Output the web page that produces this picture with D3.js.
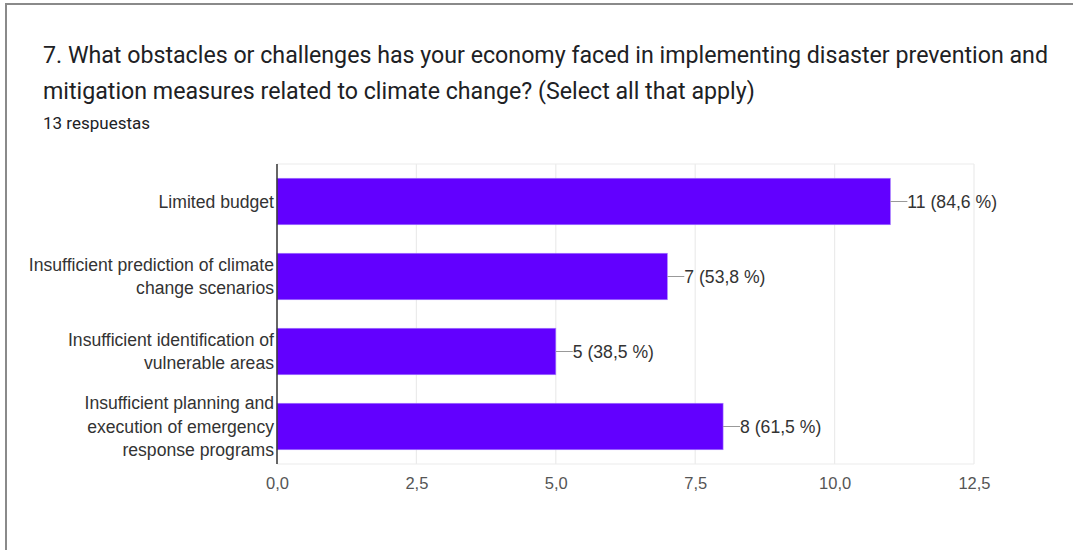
<!DOCTYPE html>
<html><head><meta charset="utf-8">
<script src="https://cdn.jsdelivr.net/npm/d3@7"></script>
<style>
html,body{margin:0;padding:0;background:#fff;}
svg{display:block;}
</style></head>
<body>
<svg id="chart" width="1073" height="550"></svg>
<script>
const categories = [
  ["Limited budget"],
  ["Insufficient prediction of climate", "change scenarios"],
  ["Insufficient identification of", "vulnerable areas"],
  ["Insufficient planning and", "execution of emergency", "response programs"]
];
const counts = [11, 7, 5, 8];
const percentLabels = ["84,6 %", "53,8 %", "38,5 %", "61,5 %"];
const tickValues = [0, 2.5, 5, 7.5, 10, 12.5];
const titleLines = [
  "7. What obstacles or challenges has your economy faced in implementing disaster prevention and",
  "mitigation measures related to climate change? (Select all that apply)"
];
const subtitle = "13 respuestas";

(function(){
const svg = d3.select("#chart");
svg.append("path").attr("d","M6,550 L6,4 L1073,4").attr("fill","none").attr("stroke","#8a8a8a").attr("stroke-width",2);

svg.selectAll("text.title").data(titleLines).join("text").attr("class","title")
  .attr("x",43).attr("y",(d,i)=>63+i*36)
  .attr("font-family","Roboto").attr("font-size",23.2).attr("fill","#202124").text(d=>d);
svg.append("text").attr("x",43).attr("y",128.5).attr("font-family","Roboto").attr("font-size",17).attr("fill","#202124").text(subtitle);

const pLeft=277, pRight=974, pTop=164, pBottom=464;
const x = d3.scaleLinear().domain([0,12.5]).range([pLeft,pRight]);
const y = d3.scaleBand().domain(d3.range(counts.length)).range([pTop,pBottom]).paddingInner(0.38).paddingOuter(0.19);

svg.append("g").selectAll("line").data(tickValues.slice(1)).join("line")
  .attr("x1",d=>x(d)).attr("x2",d=>x(d)).attr("y1",pTop).attr("y2",pBottom)
  .attr("stroke","#ebebeb").attr("stroke-width",1.2);
svg.append("line").attr("x1",pLeft).attr("x2",pRight).attr("y1",pTop).attr("y2",pTop).attr("stroke","#ebebeb").attr("stroke-width",1.2);
svg.append("line").attr("x1",pLeft).attr("x2",pRight).attr("y1",pBottom).attr("y2",pBottom).attr("stroke","#ebebeb").attr("stroke-width",1.2);

const xAxis = d3.axisBottom(x).tickValues(tickValues).tickSize(0).tickPadding(0)
  .tickFormat(d=>d3.format(".1f")(d).replace(".",","));
const gx = svg.append("g").attr("transform",`translate(0,${pBottom+25})`).call(xAxis);
gx.select(".domain").remove();
gx.selectAll("text").attr("font-family","Liberation Sans, Arial").attr("font-size",16.5).attr("fill","#555").attr("dy",0);

svg.append("g").selectAll("rect").data(counts).join("rect")
  .attr("x",x(0)).attr("y",(d,i)=>y(i)).attr("width",d=>x(d)-x(0)).attr("height",y.bandwidth())
  .attr("fill","#6200ff").attr("stroke","#a57bff").attr("stroke-width",0.6);

counts.forEach((d,i)=>{
  const cy = y(i)+y.bandwidth()/2;
  svg.append("line").attr("x1",x(d)).attr("x2",x(d)+17).attr("y1",cy).attr("y2",cy).attr("stroke","#999").attr("stroke-width",1);
  svg.append("text").attr("x",x(d)+17).attr("y",cy+6).attr("font-family","Liberation Sans, Arial").attr("font-size",17.6).attr("fill","#333")
    .text(`${d} (${percentLabels[i]})`);
});

svg.append("line").attr("x1",pLeft).attr("x2",pLeft).attr("y1",pTop).attr("y2",pBottom).attr("stroke","#333").attr("stroke-width",1.5);
const yAxis = d3.axisLeft(y).tickSize(0).tickFormat("");
const gy = svg.append("g").attr("transform",`translate(${pLeft},0)`).call(yAxis);
gy.select(".domain").remove();
gy.selectAll(".tick").each(function(i){
  const lines = categories[i];
  const t = d3.select(this).append("text").attr("text-anchor","end").attr("x",-3)
    .attr("font-family","Liberation Sans, Arial").attr("font-size",17.6).attr("fill","#333");
  const lh = 23.5;
  lines.forEach((l,k)=>{
    t.append("tspan").attr("x",-3).attr("y",(k-(lines.length-1)/2)*lh+6).text(l);
  });
});
})();
</script>
</body></html>
